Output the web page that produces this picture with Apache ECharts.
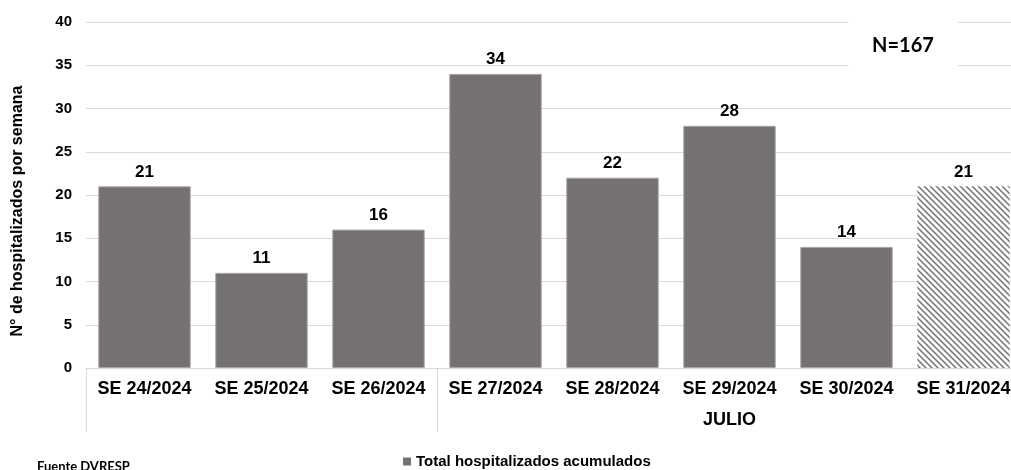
<!DOCTYPE html>
<html>
<head>
<meta charset="utf-8">
<script src="https://cdn.jsdelivr.net/npm/echarts@6/dist/echarts.min.js"></script>
<style>html,body{margin:0;padding:0;background:#fff;overflow:hidden;}#c{width:1011px;height:470px;}</style>
</head>
<body>
<div id="c"></div>
<script>
const categories = ['SE 24/2024','SE 25/2024','SE 26/2024','SE 27/2024','SE 28/2024','SE 29/2024','SE 30/2024','SE 31/2024'];
const values = [21, 11, 16, 34, 22, 28, 14, 21];
const hatched = [false, false, false, false, false, false, false, true];
const groupLabels = ['', '', '', '', '', 'JULIO', '', ''];
const groupStarts = [0, 3];
const seriesName = 'Total hospitalizados acumulados';
const yAxisName = 'N° de hospitalizados por semana';
const totalLabel = 'N=167';
const sourceLabel = 'Fuente DVRESP';

const FONT = '"Liberation Sans", Arial, sans-serif';
const BAR = '#767171';

function makePattern() {
  const s = 6;
  const cv = document.createElement('canvas');
  cv.width = s; cv.height = s;
  const ctx = cv.getContext('2d');
  ctx.fillStyle = '#fff';
  ctx.fillRect(0, 0, s, s);
  ctx.strokeStyle = BAR;
  ctx.lineWidth = 1.5;
  ctx.beginPath();
  ctx.moveTo(-1, -1); ctx.lineTo(s + 1, s + 1);
  ctx.moveTo(-1, s - 1); ctx.lineTo(1, s + 1);
  ctx.moveTo(s - 1, -1); ctx.lineTo(s + 1, 1);
  ctx.stroke();
  return { image: cv, repeat: 'repeat' };
}
const pattern = makePattern();

const chart = echarts.init(document.getElementById('c'));
chart.setOption({
  animation: false,
  grid: { left: 86, width: 936, top: 22, bottom: 102, containLabel: false, outerBoundsMode: 'none' },
  legend: {
    left: 403, top: 454, padding: 0, icon: 'rect', itemWidth: 8, itemHeight: 8, itemGap: 5,
    itemStyle: { borderWidth: 0 },
    textStyle: { fontFamily: FONT, fontWeight: 'bold', fontSize: 15, color: '#000' },
    data: [seriesName]
  },
  xAxis: [{
    type: 'category', data: categories,
    axisLine: { show: true, lineStyle: { color: '#d9d9d9', width: 1 } },
    axisTick: { show: true, length: 64, lineStyle: { color: '#d9d9d9' },
      interval: function (i) { return groupStarts.indexOf(i) >= 0; } },
    axisLabel: { color: '#000', fontFamily: FONT, fontWeight: 'bold', fontSize: 18, margin: 12, interval: 0 }
  }, {
    type: 'category', data: categories, position: 'bottom', gridIndex: 0,
    axisLine: { show: false }, axisTick: { show: false },
    axisLabel: { color: '#000', fontFamily: FONT, fontWeight: 'bold', fontSize: 18, margin: 43, interval: 0,
      formatter: function (v, i) { return groupLabels[i]; } }
  }],
  yAxis: {
    type: 'value', min: 0, max: 40, interval: 5,
    name: yAxisName, nameLocation: 'middle', nameGap: 60, nameRotate: 90,
    nameTextStyle: { color: '#000', fontFamily: FONT, fontWeight: 'bold', fontSize: 16, padding: [0, 32, 0, 0] },
    axisLine: { show: false }, axisTick: { show: false },
    axisLabel: { color: '#000', fontFamily: FONT, fontWeight: 'bold', fontSize: 15, margin: 14 },
    splitLine: { lineStyle: { color: '#d9d9d9', width: 1 } }
  },
  series: [{
    name: seriesName, type: 'bar', barCategoryGap: '21%',
    itemStyle: { color: BAR, borderColor: '#a8a4a4', borderWidth: 1 },
    label: { show: true, position: 'top', distance: 6, color: '#000', fontFamily: FONT, fontWeight: 'bold', fontSize: 17 },
    data: values.map(function (v, i) {
      return hatched[i] ? { value: v, itemStyle: { color: pattern, borderWidth: 0 } } : v;
    })
  }],
  graphic: [{
    type: 'text', z: 100,
    x: 903, y: 46,
    style: {
      text: totalLabel, x: 0, y: 0, align: 'center', verticalAlign: 'middle',
      font: 'bold 20px Lato, "Open Sans", sans-serif', fill: '#000',
      backgroundColor: '#fff', padding: [14, 24]
    }
  }, {
    type: 'text', z: 100, x: 37, y: 460,
    style: { text: sourceLabel, font: 'bold 13px Lato, "Open Sans", sans-serif', fill: '#000' }
  }]
});
</script>
</body>
</html>
